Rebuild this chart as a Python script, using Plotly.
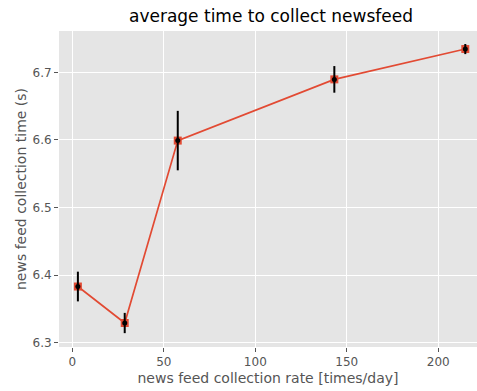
import plotly.graph_objects as go

rate = [3, 28.6, 57.6, 143.2, 214.8]
mean_time = [6.383, 6.329, 6.599, 6.6896, 6.7345]
err = [0.022, 0.015, 0.044, 0.0197, 0.0075]

RED = "#E24A33"
GRID = "white"
BG = "#E5E5E5"
TXT = "#555555"

fig = go.Figure()
fig.add_trace(go.Scatter(
    x=rate, y=mean_time, mode="lines+markers",
    line=dict(color=RED, width=1.7),
    marker=dict(symbol="square", size=8, color=RED),
    showlegend=False, hoverinfo="skip", cliponaxis=False))
fig.add_trace(go.Scatter(
    x=rate, y=mean_time, mode="markers",
    marker=dict(symbol="circle", size=5, color="black"),
    error_y=dict(type="data", array=err, color="black", thickness=2, width=0),
    showlegend=False, cliponaxis=False))

fig.update_layout(
    width=477, height=391,
    margin=dict(l=59, r=0, t=31, b=44, autoexpand=False),
    paper_bgcolor="white", plot_bgcolor=BG,
    font=dict(family="DejaVu Sans", color=TXT, size=12),
    title=dict(text="average time to collect newsfeed",
               font=dict(size=17, color="black", family="DejaVu Sans"),
               x=271/477, xref="container", xanchor="center",
               y=1-16.5/391, yref="container", yanchor="middle"),
    xaxis=dict(range=[-7.33, 221.2], tickvals=[0, 50, 100, 150, 200],
               showgrid=True, gridcolor=GRID, gridwidth=1, automargin=False,
               zeroline=False, ticks="outside", ticklen=4, tickcolor=TXT,
               tickfont=dict(size=12, color=TXT),
               title=dict(text="news feed collection rate [times/day]",
                          font=dict(size=14, color=TXT), standoff=4)),
    yaxis=dict(range=[6.2935, 6.7612], tickvals=[6.3, 6.4, 6.5, 6.6, 6.7],
               ticktext=["6.3", "6.4", "6.5", "6.6", "6.7"],
               showgrid=True, gridcolor=GRID, gridwidth=1, automargin=False,
               zeroline=False, ticks="outside", ticklen=4, tickcolor=TXT,
               tickfont=dict(size=12, color=TXT),
               title=dict(text="news feed collection time (s)",
                          font=dict(size=14, color=TXT), standoff=2)),
)

fig.write_html("out.html", config={"displayModeBar": False},
               post_script="document.body.style.margin='0';document.body.style.overflow='hidden';")
